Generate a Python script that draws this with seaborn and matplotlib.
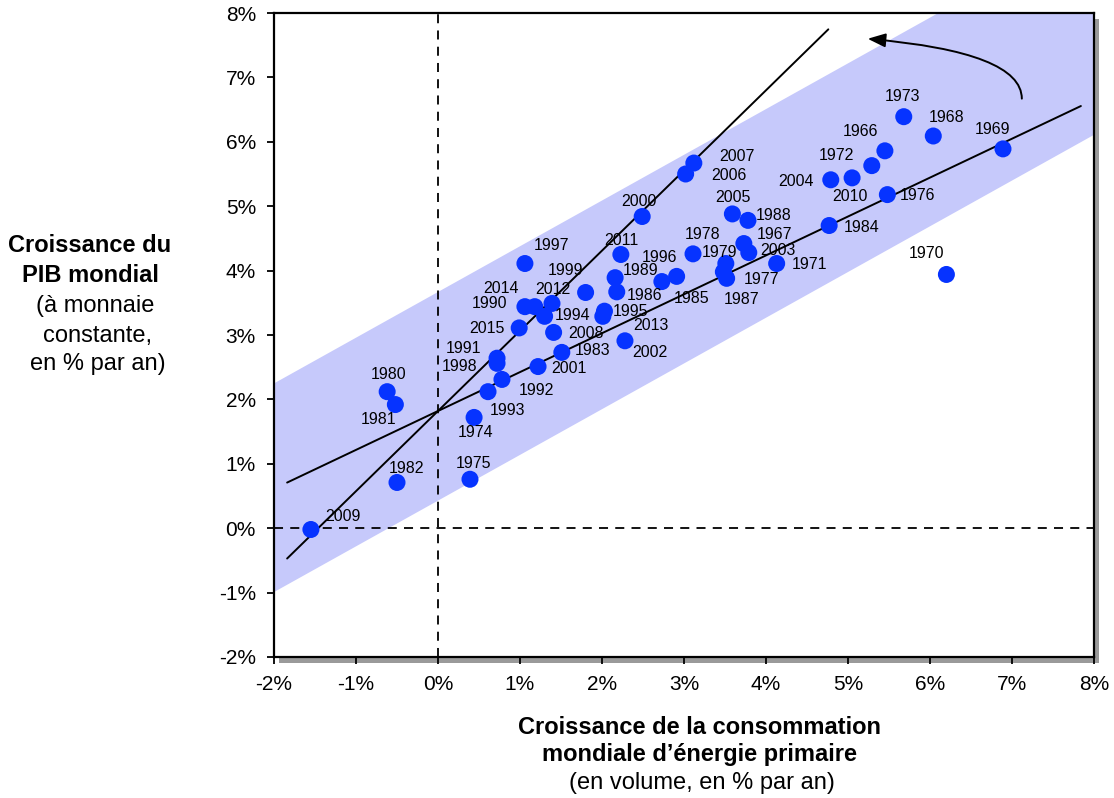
import matplotlib
matplotlib.use("Agg")
import matplotlib.pyplot as plt
from matplotlib.patches import Rectangle
from matplotlib.ticker import FuncFormatter, MultipleLocator
import numpy as np
import pandas as pd
import seaborn as sns

# ----------------------------------------------------------
# DATA  (growth in %)
# ----------------------------------------------------------

years = [2009, 1982, 1980, 1981, 1975, 1974, 1993, 1992, 1991, 1998,
         2001, 1983, 2015, 2008, 1994, 1990, 2014, 2012, 1997, 1999,
         1995, 2013, 1989, 1986, 2011, 2000, 2002, 1996, 1985, 1978,
         1979, 1977, 1987, 1967, 2003, 1971, 2005, 1988, 2006, 2007,
         2004, 2010, 1972, 1966, 1973, 1968, 1969, 1976, 1984, 1970]

energy = [-1.55, -0.50, -0.62, -0.52, 0.39, 0.44, 0.61, 0.78, 0.72, 0.72,
          1.22, 1.51, 0.99, 1.41, 1.30, 1.06, 1.18, 1.39, 1.06, 1.80,
          2.03, 2.01, 2.16, 2.18, 2.23, 2.49, 2.28, 2.73, 2.91, 3.11,
          3.51, 3.48, 3.52, 3.73, 3.79, 4.13, 3.59, 3.78, 3.02, 3.12,
          4.79, 5.05, 5.29, 5.45, 5.68, 6.04, 6.89, 5.48, 4.77, 6.20]

gdp = [-0.02, 0.71, 2.12, 1.92, 0.76, 1.72, 2.12, 2.31, 2.64, 2.56,
       2.51, 2.73, 3.11, 3.04, 3.29, 3.44, 3.44, 3.49, 4.11, 3.66,
       3.37, 3.29, 3.89, 3.67, 4.25, 4.84, 2.91, 3.83, 3.91, 4.26,
       4.11, 3.98, 3.88, 4.42, 4.28, 4.11, 4.88, 4.78, 5.50, 5.67,
       5.41, 5.44, 5.63, 5.86, 6.39, 6.09, 5.89, 5.18, 4.70, 3.94]

# fitted lines: (x range, intercept, slope)
steep_x = [-1.84, 4.76]
steep_b, steep_a = 1.82, 1.245
flat_x = [-1.84, 7.84]
flat_b, flat_a = 1.82, 0.604

# shaded band: lower / upper edges at x = -2, common slope
band_x = [-2, 8]
band_low, band_high, band_slope = -0.98, 2.26, 0.71

# label offsets (pixels) relative to each point
label_offsets = {
    2009: (32, 13), 1982: (9, 14), 1980: (1, 17), 1981: (-17, -15),
    1975: (4, 16), 1974: (1, -15), 1993: (19, -19), 1992: (34, -11),
    1991: (-34, 10), 1998: (-37, -3), 2001: (31, -2), 1983: (31, 2),
    2015: (-32, -1), 2008: (32, -1), 1994: (28, 1), 1990: (-35, 3),
    2014: (-34, 18), 2012: (1, 14), 1997: (27, 18), 1999: (-20, 22),
    1995: (26, 0), 2013: (48, -9), 1989: (25, 7), 1986: (28, -4),
    2011: (1, 14), 2000: (-3, 15), 2002: (25, -12), 1996: (-2, 24),
    1985: (15, -22), 1978: (10, 19), 1979: (-6, 11), 1977: (38, -8),
    1987: (15, -21), 1967: (31, 9), 2003: (29, 2), 1971: (33, -1),
    2005: (1, 16), 1988: (26, 5), 2006: (43, -1), 2007: (43, 7),
    2004: (-35, -2), 2010: (-2, -19), 1972: (-35, 10), 1966: (-24, 19),
    1973: (-1, 20), 1968: (13, 19), 1969: (-10, 19), 1976: (30, -1),
    1984: (32, -2), 1970: (-20, 21),
}

df = pd.DataFrame({"year": years, "energy": energy, "gdp": gdp})

# ----------------------------------------------------------
# STYLE
# ----------------------------------------------------------

sns.set_theme(style="white")
plt.rcParams["font.family"] = ["Liberation Sans", "DejaVu Sans"]
plt.rcParams["text.color"] = "black"

W, H, DPI = 1114, 798, 100
fig = plt.figure(figsize=(W / DPI, H / DPI), dpi=DPI)
ax_l, ax_r, ax_t, ax_b = 274, 1094, 13, 657
ax = fig.add_axes([ax_l / W, 1 - ax_b / H, (ax_r - ax_l) / W, (ax_b - ax_t) / H])

# drop shadow behind the frame
fig.patches.append(Rectangle(((ax_l + 5) / W, 1 - (ax_b + 6) / H),
                             (ax_r - ax_l) / W, (ax_b - ax_t) / H,
                             transform=fig.transFigure, facecolor="#9a9a9a",
                             edgecolor="none", zorder=0))
ax.set_zorder(1)
ax.set_facecolor("white")

# ----------------------------------------------------------
# DRAW
# ----------------------------------------------------------

bx = np.array(band_x, dtype=float)
ax.fill_between(bx, band_low + band_slope * (bx - band_x[0]),
                band_high + band_slope * (bx - band_x[0]),
                color="#C6C9FB", linewidth=0, zorder=1)

ax.axvline(0, color="black", linestyle=(0, (5, 4)), linewidth=1.3, zorder=2)
ax.axhline(0, color="black", linestyle=(0, (5, 4)), linewidth=1.3, zorder=2)

sx = np.array(steep_x)
fx = np.array(flat_x)
ax.plot(sx, steep_b + steep_a * sx, color="black", linewidth=1.4, zorder=3)
ax.plot(fx, flat_b + flat_a * fx, color="black", linewidth=1.4, zorder=3)

sns.scatterplot(data=df, x="energy", y="gdp", ax=ax, color="#0633FF",
                s=150, edgecolor="none", zorder=4, legend=False)

for yr, xv, yv in zip(years, energy, gdp):
    dx, dy = label_offsets[yr]
    ax.annotate(str(yr), (xv, yv), xytext=(dx, dy), textcoords="offset pixels",
                ha="center", va="center", fontsize=11.5, color="black", zorder=5)

# curved arrow top right
ax.annotate("", xy=(5.24, 7.60), xytext=(7.12, 6.67),
            arrowprops=dict(arrowstyle="-|>,head_length=0.9,head_width=0.35",
                            connectionstyle="angle3,angleA=90,angleB=-5",
                            color="black", linewidth=1.4, shrinkA=0, shrinkB=0),
            zorder=5)

# ----------------------------------------------------------
# AXES
# ----------------------------------------------------------

ax.set_xlim(-2, 8)
ax.set_ylim(-2, 8)
ax.xaxis.set_major_locator(MultipleLocator(1))
ax.yaxis.set_major_locator(MultipleLocator(1))
pct = FuncFormatter(lambda v, _: f"{v:.0f}%")
ax.xaxis.set_major_formatter(pct)
ax.yaxis.set_major_formatter(pct)
ax.tick_params(axis="both", direction="out", length=5, width=1.3,
               colors="black", labelsize=15, pad=8, bottom=True, left=True)
for sp in ax.spines.values():
    sp.set_color("black")
    sp.set_linewidth(1.6)
ax.set_xlabel("")
ax.set_ylabel("")

# y-axis title block
ylab = [("Croissance du", "bold", 90, 245), ("PIB mondial", "bold", 90, 275),
        ("(à monnaie", "normal", 95, 306), ("constante,", "normal", 98, 336),
        ("en % par an)", "normal", 98, 364)]
for txt, wt, px, py in ylab:
    fig.text(px / W, 1 - py / H, txt, ha="center", va="center",
             fontsize=17, fontweight=wt, color="black")

xlab = [("Croissance de la consommation", "bold", 700, 728),
        ("mondiale d\u2019énergie primaire", "bold", 700, 755),
        ("(en volume, en % par an)", "normal", 702, 783)]
for txt, wt, px, py in xlab:
    fig.text(px / W, 1 - py / H, txt, ha="center", va="center",
             fontsize=17, fontweight=wt, color="black")

fig.savefig("out.png", dpi=DPI)
